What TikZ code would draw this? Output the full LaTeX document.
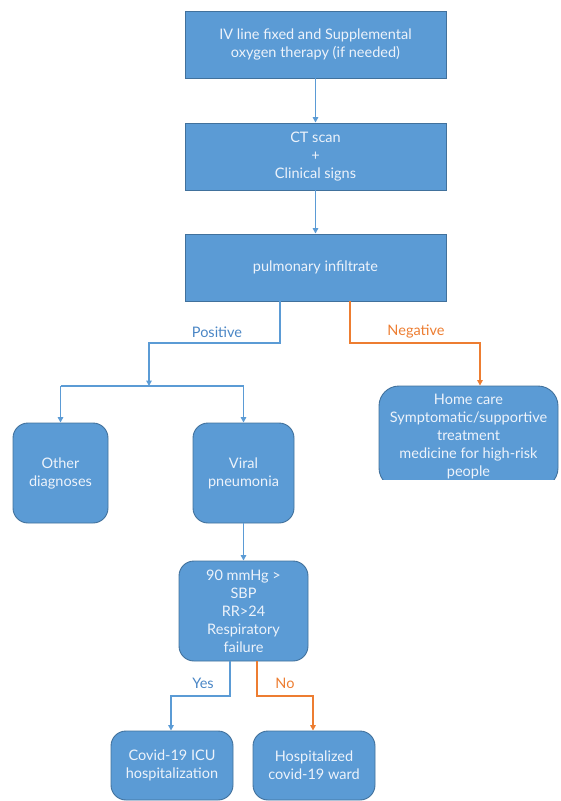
\documentclass[tikz,border=0pt]{standalone}
\usepackage{fontspec}
\setmainfont{Lato}
\usetikzlibrary{arrows.meta}
\definecolor{boxfill}{HTML}{5B9BD5}
\definecolor{boxedge}{HTML}{41719C}
\definecolor{boxtext}{HTML}{EDF3FB}
\definecolor{orangeline}{HTML}{ED7D31}
\definecolor{labelblue}{HTML}{4A86C5}
\tikzset{
  txt/.style={font=\fontsize{14.5}{18}\selectfont, text=boxtext, align=center},
  rectbox/.style={txt, draw=boxedge, line width=0.9pt, fill=boxfill, inner sep=0pt},
  roundbox/.style={rectbox, rounded corners=15pt},
  bline/.style={draw=boxfill, line width=1.4pt},
  barrow/.style={bline, -{Triangle[length=5.5pt,width=5.5pt]}},
  oarrow/.style={draw=orangeline, line width=1.4pt, -{Triangle[length=5.5pt,width=5.5pt]}},
  lbl/.style={font=\fontsize{14.5}{16}\selectfont, inner sep=0pt}
}
\begin{document}
\begin{tikzpicture}[x=1pt,y=-1pt]
\useasboundingbox (0,0) rectangle (560,801);
% boxes
\node[rectbox, minimum width=261pt, minimum height=67pt] (b1) at (315.5,44.5) {IV line fixed and Supplemental\\oxygen therapy (if needed)};
\node[rectbox, minimum width=261pt, minimum height=67pt] (b2) at (315.5,156.5) {CT scan\\+\\Clinical signs};
\node[rectbox, minimum width=261pt, minimum height=67pt] (b3) at (315.5,267.5) {pulmonary infiltrate};
\node[roundbox, minimum width=95pt, minimum height=100pt] (other) at (60.5,473) {Other\\diagnoses};
\node[roundbox, minimum width=101pt, minimum height=100pt] (viral) at (243.5,473) {Viral\\pneumonia};
\begin{scope}
\clip (0,0) rectangle (560,479.5);
\node[roundbox, rounded corners=20pt, minimum width=179pt, minimum height=102pt] (home) at (468.5,437) {Home care\\Symptomatic/supportive\\treatment\\medicine for high-risk\\people};
\end{scope}
\node[roundbox, minimum width=129pt, minimum height=100pt] (dec) at (243.5,611) {90 mmHg >\\SBP\\RR>24\\Respiratory\\failure};
\node[roundbox, minimum width=122pt, minimum height=69pt] (icu) at (172,765.5) {Covid-19 ICU\\hospitalization};
\node[roundbox, minimum width=122pt, minimum height=69pt] (hosp) at (314,765.5) {Hospitalized\\covid-19 ward};
% coordinates
\coordinate (px) at (280,0);
\coordinate (posA) at (149,343);
\coordinate (split) at (149,386);
\coordinate (nx) at (350,0);
\coordinate (negA) at (480,343);
\coordinate (yx) at (230,0);
\coordinate (yA) at (171,696);
\coordinate (nox) at (257,0);
\coordinate (noA) at (313,696);
% connectors
\draw[barrow] (b1) -- (b2);
\draw[barrow] (b2) -- (b3);
\draw[barrow] (b3.south -| px) |- (posA) -- (split);
\draw[bline] (other.north |- split) -- (viral.north |- split);
\draw[barrow] (other.north |- split) -- (other.north);
\draw[barrow] (viral.north |- split) -- (viral.north);
\draw[oarrow] (b3.south -| nx) |- (negA) -- (home.north -| negA);
\draw[barrow] (viral) -- (dec);
\draw[barrow] (dec.south -| yx) |- (yA) -- (icu.north -| yA);
\draw[oarrow] (dec.south -| nox) |- (noA) -- (hosp.north -| noA);
% labels
\node[lbl, text=labelblue] (lpos) at (217,332) {Positive};
\node[lbl, text=orangeline] (lneg) at (416,332) {Negative};
\node[lbl, text=labelblue] (lyes) at (203,683) {Yes};
\node[lbl, text=orangeline] (lno) at (285,683) {No};
\end{tikzpicture}
\end{document}
